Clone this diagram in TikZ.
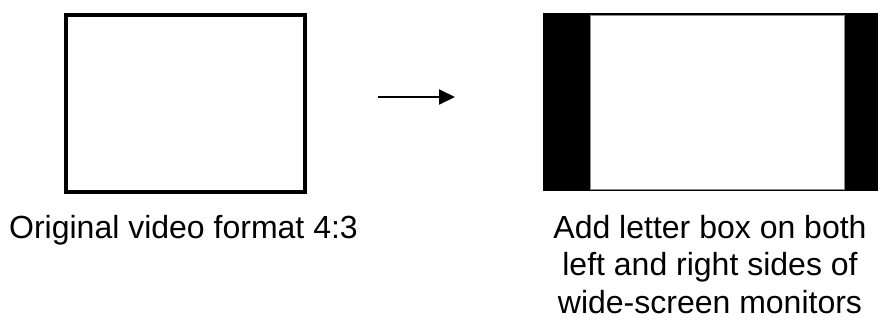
\documentclass[tikz,border=0pt]{standalone}
\usepackage{fontspec}
\setmainfont{Liberation Sans}
\usetikzlibrary{arrows.meta}

\begin{document}
\begin{tikzpicture}[
        x=1pt, y=-1pt,
        screen/.style={
            rectangle,
            draw=black,
            line width=4pt,
            inner sep=0pt,
            minimum width=239pt, % 4:3 frame
            minimum height=177pt
        },
        bars/.style={
            rectangle,
            fill=black,
            inner sep=0pt,
            minimum width=335pt,
            minimum height=178pt
        },
        picture/.style={
            rectangle,
            fill=white,
            draw=black!45,
            line width=1pt,
            inner sep=0pt,
            minimum width=254pt,
            minimum height=174pt
        },
        arrow/.style={
            -{Triangle[length=16pt,width=15pt]},
            line width=2pt
        },
        caption/.style={
            font=\fontsize{32}{37.5}\selectfont,
            align=center,
            inner sep=0pt,
            anchor=base
        }
    ]
    \useasboundingbox (0,0) rectangle (878,333);

    \node (original) [screen] at (185.5,103.5) {};
    \node (widescreen) [bars] at (710.5,102) {};
    \node (content) [picture] at (717,102) {};

    \coordinate (arrowstart) at (378,97);
    \coordinate (arrowend) at (455,97);
    \draw[arrow] (arrowstart) -- (arrowend);

    \node (originallabel) [caption] at (183.5,238) {Original video format 4:3};
    % base anchor sits on the last line
    \node (widelabel) [caption] at (710,313) {Add letter box on both\\left and right sides of\\wide-screen monitors};
\end{tikzpicture}
\end{document}
